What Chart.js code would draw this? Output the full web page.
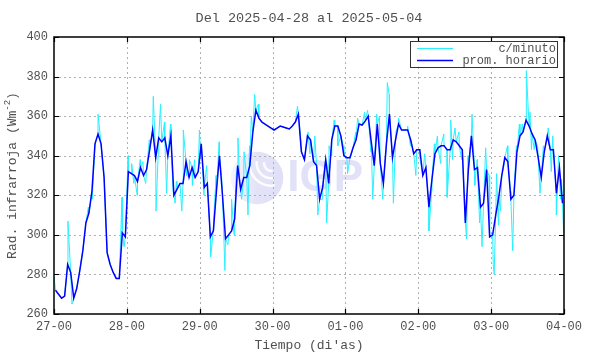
<!DOCTYPE html>
<html><head><meta charset="utf-8">
<script src="https://cdn.jsdelivr.net/npm/chart.js@4.4.1/dist/chart.umd.min.js"></script>
<style>html,body{margin:0;padding:0;background:#fff}canvas{display:block}</style>
</head><body>
<canvas id="c" width="590" height="354"></canvas>
<script>
const titleText = "Del 2025-04-28 al 2025-05-04";
const xTitle = "Tiempo (di'as)";
const yTitleMain = "Rad. infrarroja (Wm";
const yTitleSup = "-2";
const yTitleEnd = ")";
const watermarkText = "IGP";
const tickLabels = ["27-00","28-00","29-00","30-00","01-00","02-00","03-00","04-00"];
const yTicks = [260,280,300,320,340,360,380,400];
const seriesNames = ["c/minuto","prom. horario"];

// hourly mean (one value per hour, 168 hours)
const promHorario = [
 272,270,268,269,285,281,268,273,282,292,306,311,322,346,351,346,329,291,285,281,278,278,301,299,
 332,331,330,327,334,330,333,343,353,339,349,347,349,340,350,320,323,326,326,337,329,334,329,332,
 346,324,326,299,302,322,340,320,298,300,302,308,335,323,329,329,335,352,363,359,357,356,355,354,
 353,354,355,354.5,354,353.5,355,357,361,342,338,350,348,337,335,318,324,338,326,348,355,355,350,340,
 339,339,344,348,356,355.5,357.5,360,347,335,356,336,326,346,361,339,348,356,353,353,353,348,341,343,
 343,330,334,314,328,341,344,345,345,343,343,348,347,345,343,306,333,350,333,334,314,316,333,299,
 300,310,319,330,339,337,318,320,342,350,352,358,355,351,348,339,329,342,350,343,343,321,334,316
];

// per-minute excursions (hour position, value)
const minutoHoras = [0,4.6,5.9,11.3,12.6,14.5,22.4,23.1,24.4,25.6,26.3,27.4,28.4,29.3,30.2,31.4,32.7,33.6,34.3,35.1,36.4,37.1,38.4,39.2,39.9,40.3,42.1,42.6,43.7,44.6,45.6,46.3,47.9,48.3,49.4,50.3,51.6,52.6,53.4,54.4,55.2,56.3,57.3,58.5,59.3,60.0,60.6,61.2,61.8,62.6,63.9,64.4,65.0,66.1,67.3,80.2,81.3,83.7,84.3,85.9,86.9,88.3,89.8,90.6,91.4,92.3,93.5,95.3,96.7,98.2,99.4,100.0,102.3,103.3,104.4,105.0,106.3,107.2,108.3,109.8,110.4,111.8,112.6,113.5,116.5,117.4,119.2,120.6,122.1,123.5,124.4,125.3,126.3,127.4,128.4,129.5,130.7,131.3,132.1,133.4,134.3,135.9,136.4,137.7,138.6,139.4,140.2,141.0,142.2,143.3,144.7,145.0,145.8,146.4,147.1,148.0,149.4,150.4,151.1,152.3,153.3,154.3,155.6,156.8,157.3,158.2,159.3,160.1,161.2,162.8,163.8,164.3,165.5,166.2,166.8,167.2,168];
const minutoValores = [279,307,265,314,318,361,319,294,340,336,326,320,338,337,326,348,370,312,340,366,357,321,356,322,316,327,312,353,330,338,325,338,353,340,320,335,289,308,330,347,330,282,295,318,300,330,349,325,318,342,310,345,360,371,366,365,348,352,341,350,310,318,306,345,340,358,345,345,331,342,352,359,362,363,342,318,361,360,318,377,371,316,352,359,355,345,330,338,341,302,322,346,350,336,351,319,358,338,354,352,338,298,340,361,325,338,306,294,344,330,285,280,331,305,312,333,345,322,292,345,356,356,383,362,343,343,345,321,345,354,332,350,310,340,318,328,297];

const FONT = "'Liberation Mono','DejaVu Sans Mono',monospace";
const TXT = '#505050';

const blueData = promHorario.map((v,i)=>({x:i+0.5,y:v}));
const cyanData = blueData.concat(minutoHoras.map((h,i)=>({x:h,y:minutoValores[i]})))
  .sort((a,b)=>a.x-b.x);

const deco = {
  id:'deco',
  beforeDatasetsDraw(chart){
    const {ctx, chartArea:a, scales:{x,y}} = chart;
    ctx.save();
    // watermark
    const cx = a.left + a.width*0.398, cy = a.top + a.height*0.509, r = a.height*0.095;
    const g = ctx.createLinearGradient(cx-r,0,cx+r,0);
    g.addColorStop(0,'rgba(225,225,248,0.3)'); g.addColorStop(0.5,'rgba(220,220,246,0.8)'); g.addColorStop(1,'rgba(215,215,245,0.8)');
    ctx.fillStyle = g;
    ctx.beginPath(); ctx.arc(cx,cy,r,0,Math.PI*2); ctx.fill();
    ctx.strokeStyle = 'rgba(255,255,255,0.9)'; ctx.lineWidth = 2.5;
    for (let k=1;k<4;k++){ ctx.beginPath(); ctx.arc(cx+r*0.55,cy-r*0.55,r*0.28*k,Math.PI*0.45,Math.PI*1.05); ctx.stroke(); }
    ctx.fillStyle = 'rgba(218,218,246,0.8)';
    ctx.font = "bold 44px 'Liberation Sans','DejaVu Sans',sans-serif";
    ctx.textBaseline = 'middle'; ctx.textAlign = 'left';
    ctx.fillText(watermarkText, cx + r*1.15, cy + 1);
    // grid
    ctx.strokeStyle = '#b0b0b0'; ctx.lineWidth = 1; ctx.setLineDash([2,3]);
    x.ticks.forEach(t=>{ if(t.value>x.min && t.value<x.max){ const p=Math.round(x.getPixelForValue(t.value))+0.5; ctx.beginPath(); ctx.moveTo(p,a.top); ctx.lineTo(p,a.bottom); ctx.stroke(); }});
    y.ticks.forEach(t=>{ if(t.value>y.min && t.value<y.max){ const p=Math.round(y.getPixelForValue(t.value))+0.5; ctx.beginPath(); ctx.moveTo(a.left,p); ctx.lineTo(a.right,p); ctx.stroke(); }});
    ctx.restore();
  },
  afterDatasetsDraw(chart){
    const {ctx, chartArea:a, scales:{x,y}} = chart;
    ctx.save();
    ctx.strokeStyle = '#000'; ctx.lineWidth = 1.5; ctx.setLineDash([]);
    ctx.strokeRect(a.left, a.top, a.width, a.height);
    ctx.lineWidth = 1.2;
    const L = 5;
    x.ticks.forEach(t=>{ const p=Math.round(x.getPixelForValue(t.value))+0.5; ctx.beginPath(); ctx.moveTo(p,a.bottom); ctx.lineTo(p,a.bottom-L); ctx.moveTo(p,a.top); ctx.lineTo(p,a.top+L); ctx.stroke(); });
    y.ticks.forEach(t=>{ const p=Math.round(y.getPixelForValue(t.value))+0.5; ctx.beginPath(); ctx.moveTo(a.left,p); ctx.lineTo(a.left+L,p); ctx.moveTo(a.right,p); ctx.lineTo(a.right-L,p); ctx.stroke(); });
    // legend
    const bx = a.right - 154, by = a.top + 4, bw = 147, bh = 26;
    ctx.fillStyle = '#fff'; ctx.fillRect(bx,by,bw,bh);
    ctx.strokeStyle = '#333'; ctx.lineWidth = 1; ctx.strokeRect(bx+0.5,by+0.5,bw,bh);
    ctx.font = "12px " + FONT; ctx.fillStyle = TXT; ctx.textAlign='right'; ctx.textBaseline='middle';
    const ds = chart.data.datasets;
    [0,1].forEach((k)=>{
      const d = ds[k];
      const yy = by + 7 + k*12;
      ctx.strokeStyle = d.borderColor; ctx.lineWidth = d.borderWidth;
      ctx.beginPath(); ctx.moveTo(bx+7, yy+0.5); ctx.lineTo(bx+43, yy+0.5); ctx.stroke();
      ctx.fillText(d.label, bx+bw-1, yy+1);
    });
    ctx.restore();
  },
  afterDraw(chart){
    const {ctx, chartArea:a} = chart;
    ctx.save();
    ctx.fillStyle = TXT; ctx.textBaseline='middle'; ctx.textAlign='center';
    ctx.font = "13.5px " + FONT;
    ctx.fillText(titleText, (a.left+a.right)/2, 18);
    ctx.font = "13px " + FONT;
    ctx.fillText(xTitle, (a.left+a.right)/2, 346);
    // y title with superscript
    ctx.translate(13, (a.top+a.bottom)/2);
    ctx.rotate(-Math.PI/2);
    const f1 = "13px " + FONT, f2 = "9px " + FONT;
    ctx.font = f1; const w1 = ctx.measureText(yTitleMain).width, w3 = ctx.measureText(yTitleEnd).width;
    ctx.font = f2; const w2 = ctx.measureText(yTitleSup).width;
    let sx = -(w1+w2+w3)/2;
    ctx.textAlign='left';
    ctx.font = f1; ctx.fillText(yTitleMain, sx, 0); sx += w1;
    ctx.font = f2; ctx.fillText(yTitleSup, sx, -5); sx += w2;
    ctx.font = f1; ctx.fillText(yTitleEnd, sx, 0);
    ctx.restore();
  }
};

new Chart(document.getElementById('c'), {
  type:'line',
  data:{ datasets:[
    {label:seriesNames[0], data:cyanData, borderColor:'#2af0ff', borderWidth:1, pointRadius:0, tension:0, order:1},
    {label:seriesNames[1], data:blueData, borderColor:'#0000ff', borderWidth:1.5, pointRadius:0, tension:0, order:0}
  ]},
  options:{
    responsive:false, animation:false, devicePixelRatio:1, parsing:false,
    layout:{padding:{top:37,right:26,left:0,bottom:0}},
    plugins:{legend:{display:false}, tooltip:{enabled:false}, title:{display:false}},
    scales:{
      x:{type:'linear', min:0, max:168,
        afterBuildTicks:s=>{ s.ticks = tickLabels.map((_,i)=>({value:i*24})); },
        ticks:{callback:v=>tickLabels[Math.round(v/24)], font:{family:FONT,size:12}, color:TXT, padding:6, maxRotation:0, autoSkip:false},
        grid:{display:false, drawTicks:false}, border:{display:false},
        afterFit:s=>{ s.height = 40; }},
      y:{type:'linear', min:260, max:400,
        afterBuildTicks:s=>{ s.ticks = yTicks.map(v=>({value:v})); },
        ticks:{font:{family:FONT,size:12}, color:TXT, padding:6},
        grid:{display:false, drawTicks:false}, border:{display:false},
        afterFit:s=>{ s.width = 54; }}
    }
  },
  plugins:[deco]
});
</script>
</body></html>
